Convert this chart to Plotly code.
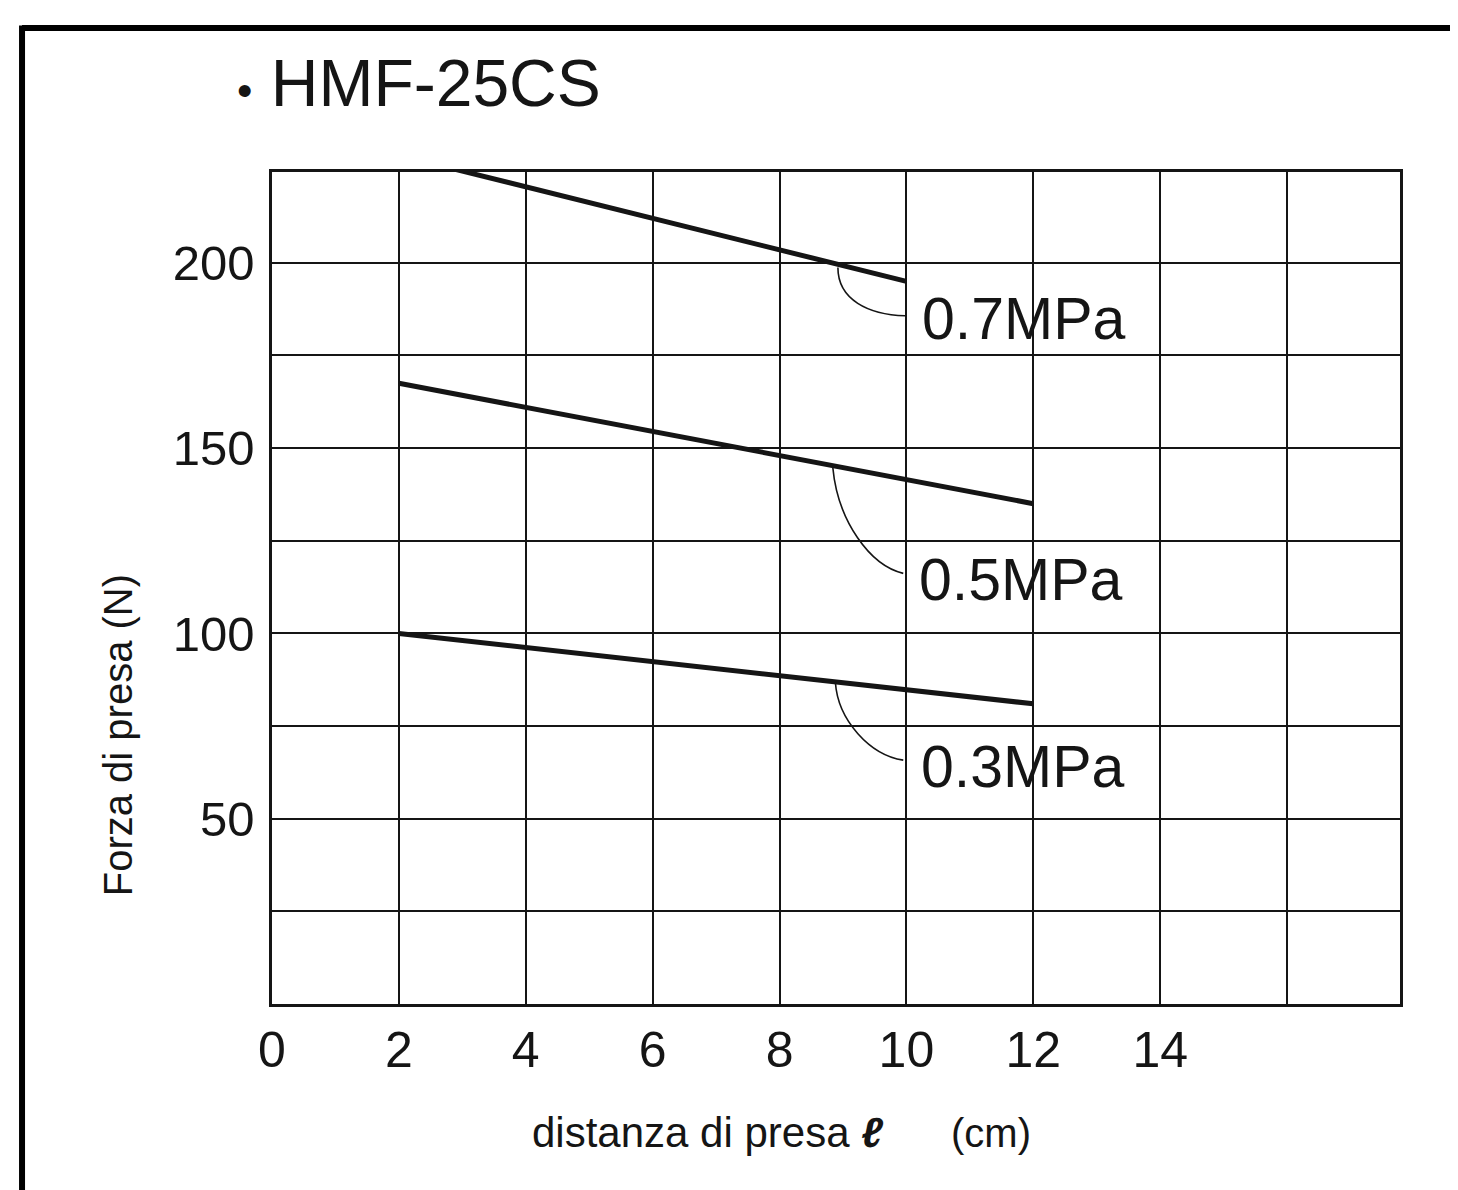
import plotly.graph_objects as go

# ---------------- data ----------------
distance_cm = [2, 4, 6, 8, 10, 12]
distance_cm_07 = [2, 4, 6, 8, 10]
force_03 = [100.0, 96.2, 92.4, 88.6, 84.8, 81.0]
force_05 = [167.5, 161.0, 154.5, 148.0, 141.5, 135.0]
force_07 = [229.0, 220.5, 212.0, 203.5, 195.0]
pressure_labels = ["0.3MPa", "0.5MPa", "0.7MPa"]
label_pos_x = [10.2, 10.17, 10.22]
label_pos_y = [63.9, 114.3, 184.9]

x_tick_vals = [0, 2, 4, 6, 8, 10, 12, 14, 16]
x_tick_text = ["0", "2", "4", "6", "8", "10", "12", "14", ""]
y_tick_vals = [25, 50, 75, 100, 125, 150, 175, 200]
y_tick_text = ["", "50", "", "100", "", "150", "", "200"]

title_bullet = "<span style='font-size:44px'>•</span>"
title_text = "HMF-25CS"
y_title = "Forza di presa (N)"
x_title_main = "distanza di presa <b><i>ℓ</i></b>"
x_title_unit = "(cm)"

INK = "#151515"
FONT = "Liberation Sans, Arial, sans-serif"

fig = go.Figure()
for xs, ys in [(distance_cm, force_03), (distance_cm, force_05), (distance_cm_07, force_07)]:
    fig.add_trace(go.Scatter(x=xs, y=ys, mode="lines",
                             line=dict(color=INK, width=5), showlegend=False,
                             hoverinfo="skip"))

# leader curves (data coordinates)
leaders = [
    "M 8.92,198.7 C 8.92,190 9.4,186 9.98,185.7",
    "M 8.84,144.7 C 8.92,130.2 9.43,118.3 9.95,116.2",
    "M 8.88,86.8 C 8.92,76.5 9.43,67.1 9.95,65.8",
]
shapes = []
for p in leaders:
    shapes.append(dict(type="path", path=p, xref="x", yref="y",
                       line=dict(color=INK, width=1.6)))

# outer frame (scan border)
shapes.append(dict(type="line", xref="paper", yref="paper",
                   x0=-0.2216, x1=-0.2216, y0=-0.3, y1=1.176,
                   line=dict(color="#000", width=6)))
shapes.append(dict(type="line", xref="paper", yref="paper",
                   x0=-0.2216, x1=1.3, y0=1.173, y1=1.173,
                   line=dict(color="#000", width=6)))

annotations = []
for t, lx, ly in zip(pressure_labels, label_pos_x, label_pos_y):
    annotations.append(dict(text=t, x=lx, y=ly, xref="x", yref="y",
                            xanchor="left", yanchor="middle", showarrow=False,
                            font=dict(family=FONT, size=59, color=INK)))

annotations.append(dict(text=title_bullet + " " + title_text, x=-0.033, y=1.107,
                        xref="paper", yref="paper",
                        xanchor="left", yanchor="middle", showarrow=False,
                        font=dict(family=FONT, size=66, color=INK)))
annotations.append(dict(text=y_title, x=-0.1365, y=0.323, xref="paper", yref="paper",
                        xanchor="center", yanchor="middle", textangle=-90, showarrow=False,
                        font=dict(family=FONT, size=40, color=INK)))
annotations.append(dict(text=x_title_main, x=0.229, y=-0.155, xref="paper", yref="paper",
                        xanchor="left", yanchor="middle", showarrow=False,
                        font=dict(family=FONT, size=42, color=INK)))
annotations.append(dict(text=x_title_unit, x=0.6, y=-0.155, xref="paper", yref="paper",
                        xanchor="left", yanchor="middle", showarrow=False,
                        font=dict(family=FONT, size=40, color=INK)))

fig.update_layout(
    width=1450, height=1182,
    margin=dict(l=264, r=58, t=164, b=186),
    paper_bgcolor="white", plot_bgcolor="white",
    shapes=shapes, annotations=annotations,
    showlegend=False,
)
fig.update_xaxes(range=[0, 17.78], tickvals=x_tick_vals, ticktext=x_tick_text,
                 showgrid=True, gridcolor=INK, gridwidth=2.2,
                 showline=True, linecolor=INK, linewidth=2.5, mirror=True,
                 ticks="", ticklen=0,
                 tickfont=dict(family=FONT, size=50, color=INK), zeroline=False)
fig.update_yaxes(range=[0, 224.5], tickvals=y_tick_vals, ticktext=y_tick_text,
                 showgrid=True, gridcolor=INK, gridwidth=2.2,
                 showline=True, linecolor=INK, linewidth=2.5, mirror=True,
                 ticks="outside", ticklen=5, tickcolor="rgba(0,0,0,0)",
                 tickfont=dict(family=FONT, size=49, color=INK), zeroline=False)

fig.write_html("out.html")
